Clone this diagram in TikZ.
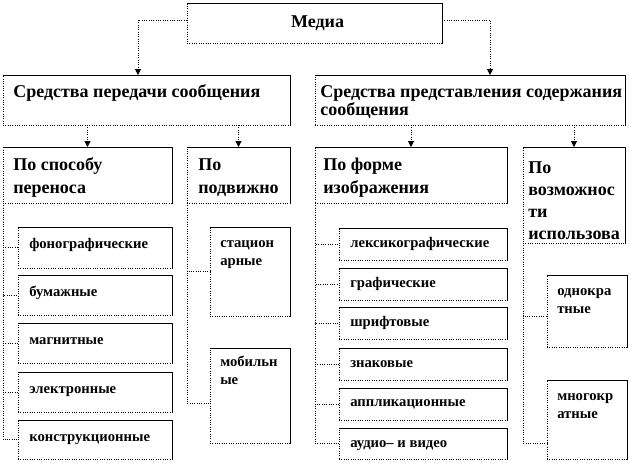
\documentclass[tikz,border=0pt]{standalone}
\usepackage{fontspec}
\setmainfont{Liberation Serif}
\usetikzlibrary{arrows.meta}
\tikzset{
  boxst/.style={draw, densely dotted, fill=white, inner sep=0pt, outer sep=0pt, line width=0.75pt},
  edgest/.style={line width=0.75pt, line cap=rect},
  conn/.style={densely dotted, line width=0.75pt, -{Triangle[width=4.5pt,length=4.5pt]}},
  branch/.style={densely dotted, line width=0.75pt},
  bigtxt/.style={font=\fontsize{13.5}{17}\selectfont\bfseries, inner sep=0pt, anchor=base west, align=left},
  headtxt/.style={font=\fontsize{13.5}{13.5}\selectfont\bfseries, inner sep=0pt, anchor=base west, align=left},
  smalltxt/.style={font=\fontsize{11}{13.5}\selectfont\bfseries, inner sep=0pt, anchor=base west, align=left},
}
\newcommand\mybox[5]{%
  \node[boxst, minimum width={(#4-#2)*0.75pt}, minimum height={(#5-#3)*0.75pt}, anchor=north west] (#1) at (#2,#3) {};
  \draw[edgest] (#1.north west) -- (#1.north east) -- (#1.south east);}
\begin{document}
\begin{tikzpicture}[x=0.75pt, y=-0.75pt]
\useasboundingbox (0,0) rectangle (630,462);
% boxes
\mybox{media}{187}{3}{442}{43}
\mybox{b1}{3}{75}{290}{125}
\mybox{b2}{315}{75}{625}{125}
\mybox{p1}{3}{147}{172}{203}
\mybox{p2}{187}{147}{290}{203}
\mybox{p3}{315}{147}{507}{203}
\mybox{p4}{523}{147}{625}{243}
\mybox{s1}{18}{227}{172}{268}
\mybox{s2}{18}{275}{172}{315}
\mybox{s3}{18}{323}{172}{363}
\mybox{s4}{18}{372}{172}{412}
\mybox{s5}{18}{420}{172}{459}
\mybox{m1}{210}{227}{290}{316}
\mybox{m2}{210}{348}{290}{443}
\mybox{r1}{339}{228}{507}{260}
\mybox{r2}{339}{268}{507}{300}
\mybox{r3}{339}{307}{507}{339}
\mybox{r4}{339}{348}{507}{380}
\mybox{r5}{339}{388}{507}{420}
\mybox{r6}{339}{428}{507}{459}
\mybox{f1}{547}{275}{627}{347}
\mybox{f2}{547}{380}{627}{459}
% texts (anchor = baseline of the last line)
\node[headtxt, anchor=base] (tmedia) at ([shift={(3,24)}]media.north) {Медиа};
\node[headtxt] (tb1) at ([shift={(10,22)}]b1.north west) {Средства передачи сообщения};
\node[headtxt] (tb2) at ([shift={(5,40)}]b2.north west) {Средства представления содержания\\сообщения};
\node[bigtxt] (tp1) at ([shift={(10,46)}]p1.north west) {По способу\\переноса};
\node[bigtxt] (tp2) at ([shift={(11,46)}]p2.north west) {По\\подвижно};
\node[bigtxt] (tp3) at ([shift={(8,46)}]p3.north west) {По форме\\изображения};
\node[bigtxt, font=\fontsize{13.5}{16.5}\selectfont\bfseries] (tp4) at ([shift={(5,92)}]p4.north west) {По\\возможнос\\ти\\использова};
\node[smalltxt] (ts1) at ([shift={(11,21.5)}]s1.north west) {фонографические};
\node[smalltxt] (ts2) at ([shift={(11,21.5)}]s2.north west) {бумажные};
\node[smalltxt] (ts3) at ([shift={(11,21.5)}]s3.north west) {магнитные};
\node[smalltxt] (ts4) at ([shift={(11,21.5)}]s4.north west) {электронные};
\node[smalltxt] (ts5) at ([shift={(11,21.5)}]s5.north west) {конструкционные};
\node[smalltxt] (tm1) at ([shift={(10,38)}]m1.north west) {стацион\\арные};
\node[smalltxt] (tm2) at ([shift={(10,36)}]m2.north west) {мобильн\\ые};
\node[smalltxt] (tr1) at ([shift={(11,19)}]r1.north west) {лексикографические};
\node[smalltxt] (tr2) at ([shift={(11,19)}]r2.north west) {графические};
\node[smalltxt] (tr3) at ([shift={(11,19)}]r3.north west) {шрифтовые};
\node[smalltxt] (tr4) at ([shift={(11,19)}]r4.north west) {знаковые};
\node[smalltxt] (tr5) at ([shift={(11,18)}]r5.north west) {аппликационные};
\node[smalltxt] (tr6) at ([shift={(11,19)}]r6.north west) {аудио– и видео};
\node[smalltxt] (tf1) at ([shift={(10,38)}]f1.north west) {однокра\\тные};
\node[smalltxt] (tf2) at ([shift={(10,38)}]f2.north west) {многокр\\атные};
% connectors
\draw[conn] ([shift={(0,-3)}]media.west) -| ([shift={(-8.5,0)}]b1.north);
\draw[conn] ([shift={(0,-3)}]media.east) -| ([shift={(20,0)}]b2.north);
\draw[conn] (b1.south -| p1.north) -- (p1.north);
\draw[conn] (b1.south -| p2.north) -- (p2.north);
\draw[conn] (b2.south -| p3.north) -- (p3.north);
\draw[conn] (b2.south -| p4.north) -- (p4.north);
% branches
\foreach \s in {s1,s2,s3,s4,s5} \draw[branch] (p1.south west) |- (\s.west);
\draw[branch] (p2.south west) |- (m1.west);
\draw[branch] (p2.south west) |- ([shift={(0,8)}]m2.west);
\foreach \s in {r1,r2,r3,r4,r5,r6} \draw[branch] (p3.south west) |- (\s.west);
\draw[branch] (p4.south west) |- ([shift={(0,5)}]f1.west);
\draw[branch] (p4.south west) |- ([shift={(0,24)}]f2.west);
\end{tikzpicture}
\end{document}
